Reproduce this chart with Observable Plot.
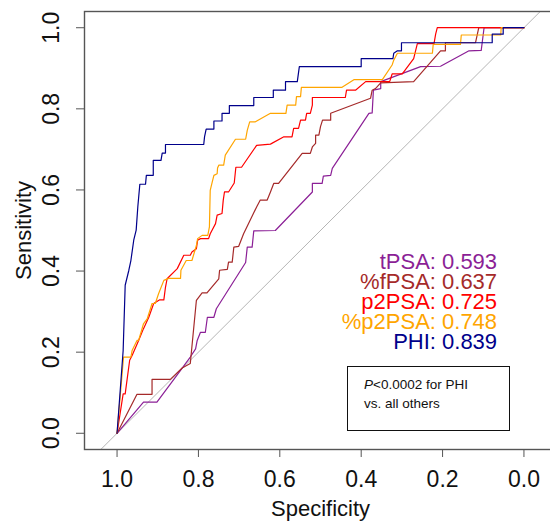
<!DOCTYPE html>
<html>
<head>
<meta charset="utf-8">
<script src="https://cdn.jsdelivr.net/npm/d3@7"></script>
<script src="https://cdn.jsdelivr.net/npm/@observablehq/plot@0.6"></script>
<style>
  html, body { margin: 0; padding: 0; background: #fff; overflow: hidden; }
  #wrap { position: relative; width: 550px; height: 521px; overflow: hidden; }
  #chart svg { max-width: none !important; display: block; }
  #note { position: absolute; left: 347px; top: 366px; width: 163px; height: 65px;
          border: 1.6px solid #111; font-family: "Liberation Sans", Arial, sans-serif;
          font-size: 13.5px; line-height: 19px; color: #111; padding: 8px 0 0 16px; box-sizing: border-box; }
</style>
</head>
<body>
<div id="wrap"><div id="chart"></div>
<div id="note"><i>P</i>&lt;0.0002 for PHI<br>vs. all others</div></div>
<script>
// Series names, AUC values, colours
const seriesNames = ["tPSA", "%fPSA", "p2PSA", "%p2PSA", "PHI"];
const aucValues = ["0.593", "0.637", "0.725", "0.748", "0.839"];
const seriesColors = ["#8B1F96", "#A52A2A", "#FF0000", "#FFA500", "#00008B"];

// Axis ticks
const xTicks = [1.0, 0.8, 0.6, 0.4, 0.2, 0.0];
const yTicks = [0.0, 0.2, 0.4, 0.6, 0.8, 1.0];

// ROC curves: specificity / sensitivity
const tpsaSpec = [1, 0.935, 0.902, 0.844, 0.820, 0.807, 0.803, 0.795, 0.783, 0.778, 0.762, 0.756, 0.684, 0.680, 0.668, 0.664, 0.611, 0.520, 0.520, 0.496, 0.493, 0.475, 0.471, 0.381, 0.373, 0.370, 0.352, 0.352, 0.254, 0.205, 0.135, 0.105, 0.098, 0];
const tpsaSens = [0, 0.077, 0.077, 0.155, 0.188, 0.208, 0.229, 0.249, 0.249, 0.286, 0.286, 0.307, 0.421, 0.459, 0.459, 0.499, 0.500, 0.595, 0.616, 0.616, 0.634, 0.636, 0.653, 0.789, 0.790, 0.846, 0.850, 0.867, 0.904, 0.905, 0.943, 0.944, 1, 1];

const ffpsaSpec = [1, 0.951, 0.914, 0.914, 0.869, 0.840, 0.820, 0.805, 0.791, 0.779, 0.750, 0.748, 0.729, 0.726, 0.717, 0.713, 0.701, 0.689, 0.657, 0.648, 0.631, 0.623, 0.615, 0.603, 0.545, 0.525, 0.520, 0.512, 0.512, 0.504, 0.500, 0.495, 0.475, 0.475, 0.377, 0.373, 0.365, 0.352, 0.271, 0.205, 0.193, 0.193, 0.119, 0.111, 0];
const ffpsaSens = [0, 0.096, 0.096, 0.133, 0.133, 0.161, 0.172, 0.328, 0.346, 0.346, 0.381, 0.402, 0.404, 0.422, 0.422, 0.459, 0.461, 0.492, 0.558, 0.575, 0.575, 0.595, 0.616, 0.616, 0.690, 0.690, 0.706, 0.715, 0.735, 0.735, 0.756, 0.772, 0.772, 0.789, 0.826, 0.846, 0.850, 0.864, 0.867, 0.943, 0.943, 0.963, 0.963, 1, 1];

const p2psaSpec = [1, 0.985, 0.980, 0.969, 0.963, 0.947, 0.935, 0.922, 0.910, 0.895, 0.885, 0.881, 0.877, 0.852, 0.836, 0.820, 0.816, 0.805, 0.802, 0.795, 0.775, 0.771, 0.758, 0.754, 0.742, 0.739, 0.736, 0.726, 0.712, 0.708, 0.694, 0.657, 0.623, 0.590, 0.570, 0.566, 0.554, 0.549, 0.537, 0.534, 0.525, 0.520, 0.520, 0.439, 0.436, 0.414, 0.389, 0.330, 0.324, 0.299, 0.271, 0.262, 0.221, 0.217, 0.213, 0];
const p2psaSens = [0, 0.097, 0.097, 0.180, 0.192, 0.229, 0.258, 0.286, 0.320, 0.329, 0.329, 0.360, 0.381, 0.406, 0.439, 0.439, 0.447, 0.455, 0.476, 0.480, 0.480, 0.492, 0.517, 0.538, 0.542, 0.575, 0.595, 0.595, 0.617, 0.656, 0.656, 0.710, 0.713, 0.731, 0.731, 0.752, 0.752, 0.772, 0.772, 0.789, 0.789, 0.809, 0.828, 0.828, 0.846, 0.846, 0.867, 0.867, 0.886, 0.886, 0.924, 0.961, 0.961, 0.984, 1, 1];

const pp2psaSpec = [1, 0.984, 0.966, 0.963, 0.951, 0.947, 0.935, 0.926, 0.918, 0.914, 0.906, 0.898, 0.885, 0.873, 0.844, 0.843, 0.830, 0.816, 0.805, 0.802, 0.791, 0.777, 0.773, 0.771, 0.766, 0.762, 0.754, 0.753, 0.750, 0.738, 0.734, 0.709, 0.684, 0.680, 0.674, 0.660, 0.623, 0.585, 0.582, 0.561, 0.559, 0.549, 0.547, 0.447, 0.418, 0.348, 0.324, 0.320, 0.311, 0.225, 0.223, 0.156, 0.154, 0.057, 0.056, 0];
const pp2psaSens = [0, 0.188, 0.188, 0.204, 0.229, 0.229, 0.270, 0.282, 0.307, 0.320, 0.320, 0.344, 0.377, 0.382, 0.382, 0.402, 0.426, 0.426, 0.463, 0.480, 0.488, 0.488, 0.509, 0.599, 0.620, 0.636, 0.640, 0.654, 0.661, 0.661, 0.686, 0.725, 0.725, 0.747, 0.768, 0.768, 0.789, 0.789, 0.809, 0.809, 0.830, 0.830, 0.853, 0.853, 0.872, 0.872, 0.908, 0.920, 0.937, 0.937, 0.959, 0.959, 0.982, 0.982, 1, 1];

const phiSpec = [1, 0.985, 0.980, 0.971, 0.966, 0.959, 0.953, 0.949, 0.944, 0.930, 0.928, 0.911, 0.911, 0.892, 0.889, 0.881, 0.881, 0.787, 0.785, 0.781, 0.762, 0.762, 0.742, 0.742, 0.724, 0.724, 0.664, 0.664, 0.616, 0.616, 0.586, 0.586, 0.557, 0.552, 0.400, 0.400, 0.322, 0.320, 0.311, 0.301, 0.301, 0.078, 0.078, 0.051, 0.051, 0];
const phiSens = [0, 0.204, 0.365, 0.402, 0.426, 0.476, 0.501, 0.558, 0.614, 0.614, 0.636, 0.636, 0.673, 0.673, 0.691, 0.691, 0.712, 0.712, 0.731, 0.750, 0.750, 0.770, 0.770, 0.789, 0.789, 0.808, 0.808, 0.828, 0.828, 0.846, 0.846, 0.867, 0.867, 0.904, 0.904, 0.924, 0.924, 0.937, 0.943, 0.943, 0.963, 0.963, 0.984, 0.984, 1, 1];

// chance line end points (specificity)
const chanceSpec = [1.2, -0.2];

const curves = [
  [tpsaSpec, tpsaSens], [ffpsaSpec, ffpsaSens], [p2psaSpec, p2psaSens],
  [pp2psaSpec, pp2psaSens], [phiSpec, phiSens]
];
const rows = curves.flatMap(([sp, se], k) =>
  sp.map((s, i) => ({name: seriesNames[k], spec: s, sens: se[i]})));
const legendRows = seriesNames.map((n, i) => ({name: n, auc: aucValues[i], i}));

const font = "'Liberation Sans', Arial, Helvetica, sans-serif";
const axisColor = "#555";
const labelSize = 23;

const chart = Plot.plot({
  width: 557,
  height: 521,
  marginLeft: 84,
  marginRight: 1,
  marginTop: 11,
  marginBottom: 72,
  style: {fontFamily: font, fontSize: "18px", color: axisColor, background: "white"},
  x: {domain: [1.08, -0.08], ticks: xTicks, tickSize: 8, tickFormat: () => "", label: null},
  y: {domain: [-0.04, 1.04], ticks: yTicks, tickSize: 8, tickFormat: () => "", label: null},
  color: {domain: seriesNames, range: seriesColors},
  marks: [
    Plot.line(chanceSpec, {x: d => d, y: d => 1 - d, stroke: "#b5b5b5", strokeWidth: 1, clip: true}),
    Plot.line(rows, {x: "spec", y: "sens", z: "name", stroke: "name", strokeWidth: 1.2}),
    Plot.frame({stroke: axisColor, strokeWidth: 1.4}),
    Plot.text(xTicks, {x: d => d, frameAnchor: "bottom", lineAnchor: "middle", textAnchor: "middle", dy: 30,
      text: d => d.toFixed(1), fill: "#111", fontSize: labelSize}),
    Plot.text(yTicks, {y: d => d, frameAnchor: "left", lineAnchor: "middle", textAnchor: "middle", dx: -33, rotate: -90,
      text: d => d.toFixed(1), fill: "#111", fontSize: labelSize}),
    Plot.text(["Specificity"], {frameAnchor: "bottom", lineAnchor: "middle", textAnchor: "middle", dy: 59,
      text: d => d, fill: "#111", fontSize: 22}),
    Plot.text(["Sensitivity"], {frameAnchor: "left", lineAnchor: "middle", textAnchor: "middle", dx: -61, rotate: -90,
      text: d => d, fill: "#111", fontSize: 22}),
    Plot.text(legendRows, {x: () => 0.066, y: d => 0.422 - d.i * 0.0494, text: d => `${d.name}: ${d.auc}`,
      fill: "name", textAnchor: "end", lineAnchor: "middle", fontSize: 22})
  ]
});
chart.style.maxWidth = "none";
document.getElementById("chart").appendChild(chart);
</script>
</body>
</html>
